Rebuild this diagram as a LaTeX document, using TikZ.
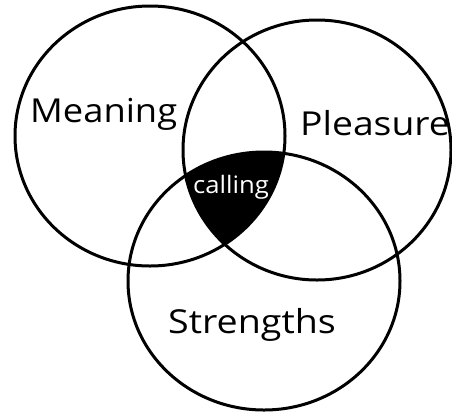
\documentclass[tikz,border=0pt]{standalone}
\usepackage{fontspec}
\setmainfont{Open Sans}
\begin{document}
\begin{tikzpicture}[x=1pt,y=-1pt,
  ring/.style={draw=black,line width=3pt},
  lbl/.style={inner sep=0pt,anchor=base west,font=\fontsize{33}{33}\selectfont},
  hub/.style={inner sep=0pt,anchor=base west,text=white,font=\fontsize{24}{24}\selectfont}]
\useasboundingbox[fill=white] (0,0) rectangle (452,416);
\coordinate (cL) at (150,136);
\coordinate (cR) at (317,150);
\coordinate (cB) at (264,281);
\begin{scope}
  \clip (cL) ellipse [x radius=135pt, y radius=130pt];
  \clip (cR) ellipse [x radius=134pt, y radius=130pt];
  \fill[black] (cB) ellipse [x radius=136pt, y radius=129pt];
\end{scope}
\draw[ring] (cL) ellipse [x radius=135pt, y radius=130pt];
\draw[ring] (cR) ellipse [x radius=134pt, y radius=130pt];
\draw[ring] (cB) ellipse [x radius=136pt, y radius=129pt];
\node[lbl] (meaning) at (30,122) {\scalebox{1.1}[1]{Meaning}};
\node[lbl] (pleasure) at (300,135) {\scalebox{1.13}[1]{Pleasure}};
\node[lbl] (strengths) at (168,333) {\scalebox{1.14}[1]{Strengths}};
\node[hub] (calling) at (193,193) {\scalebox{1.07}[1]{calling}};
\end{tikzpicture}
\end{document}
